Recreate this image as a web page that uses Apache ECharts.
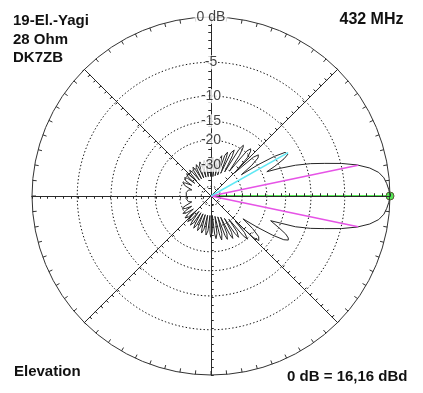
<!DOCTYPE html>
<html><head><meta charset="utf-8">
<script src="https://cdn.jsdelivr.net/npm/echarts@6/dist/echarts.min.js"></script>
<style>html,body{margin:0;padding:0;background:#fff}#c{width:423px;height:393px}</style>
</head><body><div id="c"></div>
<script>
// ---- texts ----
const titleLines = ['19-El.-Yagi', '28 Ohm', 'DK7ZB'];
const freqLabel = '432 MHz';
const planeLabel = 'Elevation';
const refLabel = '0 dB = 16,16 dBd';
const topLabel = '0 dB';
// ---- ring scale (dB) ----
const ringDb = [-5, -10, -15, -20, -30, -50];
const ringLabels = ['-5', '-10', '-15', '-20', '-30', ''];
// ---- pattern, upper half (0..180 deg) ----
const upperAngle = [0,2,4,6,8,10,12,14,16,18,20,22,23.5,25,27,28.5,29.3,30.5,32,33.5,35,
  37,39,41,42.5,44.5, 46.5,48.5,50,51.5,53.5, 55,56.5,57.5,59,60.5, 62,63.2,64,65.3,66.8,
  68.3,69.3,70,71.2,72.5, 74,75,75.8,77,78.5, 80,81,81.8,83,84.5, 86,87.3,88,89.3,91,
  92.5,94,95,96.3,98, 99.5,101,102,103.3,105, 106.5,108,109,110.3,112, 113.5,115,116,117.3,119,
  120.5,122,123,124.3,126, 128,129.5,130.5,132,134, 136,137.5,138.5,140,142, 143,145,147,149,151,
  153,155,156.5,158.5,162.5, 165,168,172,176,180];
const upperDb = [0,-0.1,-0.27,-0.5,-0.95,-1.8,-3.1,-4.9,-7.1,-9.2,-11.8,-15.3,-18.5,-16,-13.4,-12.3,-12.1,-12.6,-15,-19.5,-27,
  -21.5,-18.6,-18,-19.5,-29, -21,-18.8,-18.3,-19.5,-30, -22,-19.3,-18.7,-20.5,-32, -23.5,-21.4,-21,-22.8,-34,
  -25,-23,-22.7,-24.5,-36, -27,-25,-24.8,-26.5,-37, -28.5,-26.6,-26.3,-28,-38, -28.5,-26.5,-26.3,-28,-38,
  -29,-27,-26.8,-28.5,-38, -29.5,-27.4,-27.2,-29,-38, -29.5,-27.6,-27.4,-29,-38, -30,-28.2,-28,-29.5,-38,
  -30.3,-28.5,-28.3,-30,-38, -30.5,-28.8,-28.6,-30.5,-37, -30.5,-29,-28.8,-30.5,-37, -31,-29.5,-29.2,-31,-36,
  -31.5,-30.2,-30,-32,-37.5, -35,-34,-33.8,-34,-34];
// ---- pattern, lower half (0..-180 deg) ----
const lowerAngle = [0,-2,-4,-6,-8,-10,-12,-14,-16,-18,-20,-22.5,-25,-27,-28.5,-29.7,-31,-32.5,-34,-35.5,
  -38,-40.5,-43,-44.5,-46, -47.5,-48.8,-49.8,-51,-52.5, -54,-55.3,-56.3,-57.5,-59, -60.5,-61.8,-62.8,-64,-65.5,
  -67,-68.3,-69.3,-70.5,-72, -74,-75.3,-76.3,-77.5,-79, -81,-82.3,-83.3,-84.5,-86, -88,-89.3,-90.3,-91.5,-93,
  -95,-96.3,-97.3,-98.5,-100, -102,-103.3,-104.3,-105.5,-107, -109,-110.3,-111.3,-112.5,-114, -116,-117.3,-118.3,-119.5,-121,
  -123,-124.3,-125.3,-126.5,-128, -130,-131.3,-132.3,-133.5,-135, -137,-138.8,-139.8,-141.3,-143.5, -145.5,-147,-148,-150,-152,
  -154,-155.5,-157,-159,-163, -166,-170,-174,-180];
const lowerDb = [0,-0.1,-0.27,-0.5,-0.95,-1.8,-3.1,-4.9,-7.1,-9.2,-11.8,-17.5,-15,-13,-12.2,-12,-12.8,-15.5,-20,-26,
  -21,-18,-17.3,-19,-28, -22,-20.2,-19.8,-21.5,-31, -24,-22.3,-22,-24,-33, -25,-23,-22.7,-24.5,-35,
  -25.5,-23.5,-23.2,-25,-36, -26,-23.9,-23.6,-25.5,-37, -26.5,-24.8,-24.5,-26.5,-38, -27.5,-25.5,-25.2,-27,-38,
  -28,-26.3,-26,-28,-38, -28.5,-26.8,-26.5,-28.5,-38, -29,-27.3,-27,-29,-38, -29.3,-27.5,-27.3,-29.3,-38,
  -29.7,-28,-27.7,-29.7,-38, -30,-28.5,-28.2,-30,-37, -30.3,-28.7,-28.5,-30.3,-36, -31,-29.2,-29,-31,-36,
  -31.5,-30.2,-30,-32,-37.5, -35,-34,-33.8,-34];
// ---- marker lines ----
const halfPowerAngle = [11.8, -11.8];
const halfPowerDb = [-3, -3];
const sideLobeAngle = 29.3;
const sideLobeDb = -12.1;
const mainAngle = 0;
const mainDb = 0;

const R = 23; // radius-axis units at 0 dB
function toR(db) { return R * Math.pow(0.89, -db / 2); }
function norm(a) { return a < 0 ? a + 360 : a; }

const CENTER = [211, 196], RADIUS = 179;
const FONT = 'Liberation Sans, Arial, sans-serif';

const polar = [], angleAxis = [], radiusAxis = [];
for (let k = 0; k < 8; k++) {
  for (let s = 0; s < 2; s++) {
    const idx = polar.length;
    polar.push({ center: CENTER, radius: RADIUS });
    angleAxis.push({
      polarIndex: idx, type: 'value', min: 0, max: 360, interval: 5,
      startAngle: 45 * k, clockwise: false,
      show: idx === 0,
      axisLine: { show: idx === 0, lineStyle: { color: '#333', width: 1 } },
      axisTick: { show: idx === 0, inside: true, length: 4, lineStyle: { color: '#333' } },
      axisLabel: { show: false }, splitLine: { show: false }, splitArea: { show: false }
    });
    radiusAxis.push({
      polarIndex: idx, type: 'value', min: 0, max: R, interval: 1, z: 3,
      axisLine: { show: true, lineStyle: { color: '#2a2a2a', width: 1 } },
      axisTick: { show: true, inside: s === 1, length: 2.5, lineStyle: { color: '#2a2a2a' } },
      axisLabel: { show: false }, splitLine: { show: false }, splitArea: { show: false }
    });
  }
}

const series = [];
ringDb.forEach(function (db) {
  const d = [];
  for (let a = 0; a <= 360; a += 2) d.push([toR(db), a]);
  series.push({ type: 'line', coordinateSystem: 'polar', polarIndex: 0, data: d, symbol: 'none',
    silent: true, lineStyle: { color: '#111', width: 1, type: [1.4, 2.2] }, z: 1 });
});

// pattern
const pat = [];
for (let i = 0; i < upperAngle.length; i++) pat.push([toR(upperDb[i]), norm(upperAngle[i])]);
for (let i = lowerAngle.length - 1; i >= 0; i--) pat.push([toR(lowerDb[i]), norm(lowerAngle[i])]);
series.push({ type: 'line', coordinateSystem: 'polar', polarIndex: 0, data: pat, symbol: 'none',
  lineStyle: { color: '#262626', width: 1 }, z: 4 });

// magenta half-power lines
halfPowerAngle.forEach(function (a, i) {
  series.push({ type: 'line', coordinateSystem: 'polar', polarIndex: 0, symbol: 'none',
    data: [[0, norm(a)], [toR(halfPowerDb[i]), norm(a)]],
    lineStyle: { color: '#e653e6', width: 1.5 }, z: 5 });
});
// cyan side lobe line
series.push({ type: 'line', coordinateSystem: 'polar', polarIndex: 0, symbol: 'none',
  data: [[0, sideLobeAngle], [toR(sideLobeDb), sideLobeAngle]],
  lineStyle: { color: '#5ee8f4', width: 1.5 }, z: 5 });
// green main beam line
series.push({ type: 'line', coordinateSystem: 'polar', polarIndex: 0, showSymbol: true,
  data: [{ value: [0, mainAngle], symbol: 'none' }, { value: [toR(mainDb), mainAngle], symbol: 'circle', symbolSize: 8 }],
  lineStyle: { color: '#55e855', width: 2 },
  itemStyle: { color: '#55e855', borderColor: '#5a5a3a', borderWidth: 1 }, z: 2 });

// ring labels
ringDb.forEach(function (db, i) {
  if (!ringLabels[i]) return;
  series.push({ type: 'scatter', coordinateSystem: 'polar', polarIndex: 0, symbolSize: 1,
    itemStyle: { color: 'rgba(0,0,0,0)' }, z: 6,
    data: [[toR(db), 90]],
    label: { show: true, position: 'inside', formatter: ringLabels[i], color: '#111',
      fontFamily: FONT, fontSize: 14, backgroundColor: '#fff', padding: [0, 0] } });
});
series.push({ type: 'scatter', coordinateSystem: 'polar', polarIndex: 0, symbolSize: 1,
  itemStyle: { color: 'rgba(0,0,0,0)' }, z: 6,
  data: [[R, 90]],
  label: { show: true, position: 'inside', formatter: topLabel, color: '#111',
    fontFamily: FONT, fontSize: 14, backgroundColor: '#fff', padding: [0, 2] } });

function txt(t, x, y, size, align) {
  return { type: 'text', x: x, y: y, z: 10,
    style: { text: t, font: 'bold ' + size + 'px ' + FONT, fill: '#111',
      textAlign: align, textVerticalAlign: 'middle', verticalAlign: 'middle' } };
}
const graphic = [
  txt(titleLines[0], 13, 20.8, 15, 'left'),
  txt(titleLines[1], 13, 39.7, 15, 'left'),
  txt(titleLines[2], 13, 58.2, 15, 'left'),
  txt(freqLabel, 403.5, 19.8, 16, 'right'),
  txt(planeLabel, 14, 371.5, 15, 'left'),
  txt(refLabel, 407.5, 376.5, 15, 'right')
];

const chart = echarts.init(document.getElementById('c'), null, { renderer: 'canvas' });
chart.setOption({
  animation: false,
  backgroundColor: '#fff',
  polar: polar, angleAxis: angleAxis, radiusAxis: radiusAxis,
  series: series, graphic: graphic
});
</script></body></html>
